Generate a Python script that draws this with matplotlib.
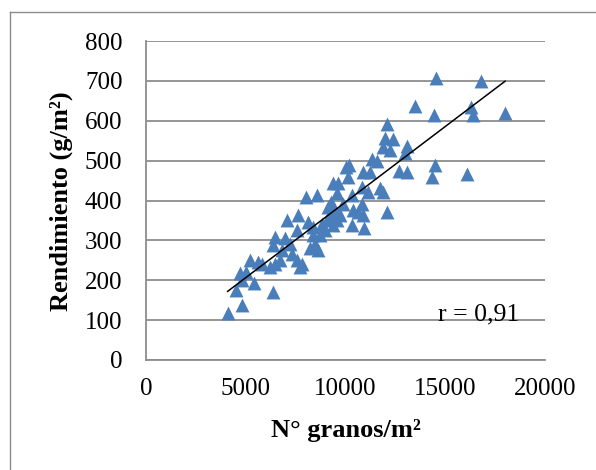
import matplotlib
matplotlib.use("Agg")
import matplotlib.pyplot as plt
from matplotlib.lines import Line2D
import numpy as np

# Data
granos = [14550, 16780, 13500, 14440, 16290, 16400, 18000, 12100, 11980, 12400,
          11900, 12230, 13070, 12980, 14490, 14340, 16080, 12700, 13070, 11310,
          11600, 10010, 10190, 10860, 11230, 9390, 9640, 9560, 10310, 10810,
          11150, 11730, 11900, 12060, 8000, 8560, 9140, 9310, 10390, 10810,
          10640, 10900, 10310, 10930, 9310, 9560, 8810, 8970, 8390, 8720,
          8470, 8220, 8640, 7640, 8140, 7050, 7550, 6470, 6380, 6970,
          7220, 6800, 7300, 7550, 7800, 7720, 5210, 5630, 5800, 6220,
          6470, 6720, 4710, 5010, 4800, 5410, 4510, 6350, 4830, 4090,
          9060, 9390, 8390, 9720, 9890, 10140, 9500, 9250]
rendimiento = [706, 700, 637, 615, 635, 615, 620, 591, 556, 553,
               535, 526, 537, 520, 489, 460, 466, 474, 472, 505,
               500, 483, 489, 472, 472, 443, 443, 418, 413, 434,
               422, 432, 422, 372, 409, 413, 384, 376, 376, 392,
               372, 363, 338, 330, 359, 351, 342, 326, 313, 313,
               292, 280, 275, 363, 346, 351, 326, 309, 288, 305,
               292, 275, 267, 250, 242, 233, 250, 246, 242, 233,
               242, 250, 217, 221, 200, 192, 175, 171, 137, 118,
               351, 338, 334, 363, 392, 459, 368, 395]

# trend line parameters
trend_slope = 0.0379
trend_intercept = 17.0
r_label = "r = 0,91"

x_ticks = [0, 5000, 10000, 15000, 20000]
y_ticks = [0, 100, 200, 300, 400, 500, 600, 700, 800]

plt.rcParams['font.family'] = ['Liberation Serif', 'DejaVu Serif']

W, H = 596, 470
fig = plt.figure(figsize=(W / 100, H / 100), dpi=100)
ax = fig.add_axes([146 / W, 1 - 360 / H, (545 - 146) / W, (360 - 41) / H])

grid_c = '#8c8c8c'
ax.set_xlim(0, 20000)
ax.set_ylim(0, 800)
ax.set_xticks(x_ticks)
ax.set_yticks(y_ticks)
ax.set_xticklabels([str(v) for v in x_ticks])
ax.set_yticklabels([str(v) for v in y_ticks])
ax.tick_params(axis='both', length=0, labelsize=18, colors='black')
ax.tick_params(axis='x', pad=13)
ax.tick_params(axis='y', pad=17)
ax.yaxis.grid(True, color=grid_c, linewidth=1.3)
ax.set_axisbelow(True)
for s in ['top', 'right']:
    ax.spines[s].set_visible(False)
ax.spines['left'].set_color(grid_c)
ax.spines['left'].set_linewidth(1.3)
ax.spines['bottom'].set_color(grid_c)
ax.spines['bottom'].set_linewidth(1.3)

ax.scatter(granos, rendimiento, marker='^', s=100, color='#4a7ebb',
           linewidths=0, zorder=3, clip_on=False)

xs = np.array([min(granos), max(granos)])
ax.plot(xs, trend_slope * xs + trend_intercept, color='black', lw=1.1, zorder=4)

ax.text(18700, 100, r_label, ha='right', va='baseline', fontsize=18.5, zorder=5)

fig.text(61 / W, 1 - 201 / H, 'Rendimiento (g/m²)', rotation=90, ha='center',
         va='center', fontsize=19, fontweight='bold')
fig.text(346 / W, 1 - 430 / H, 'N° granos/m²', ha='center', va='center',
         fontsize=19, fontweight='bold')

# chart-area border (cut at right/bottom)
bc = '#8c8c8c'
fig.add_artist(Line2D([10 / W, 1.0], [1 - 12 / H, 1 - 12 / H], color=bc, lw=1.0,
                      transform=fig.transFigure))
fig.add_artist(Line2D([10 / W, 10 / W], [1 - 12 / H, 0.0], color=bc, lw=1.0,
                      transform=fig.transFigure))

fig.savefig('out.png', dpi=100)
